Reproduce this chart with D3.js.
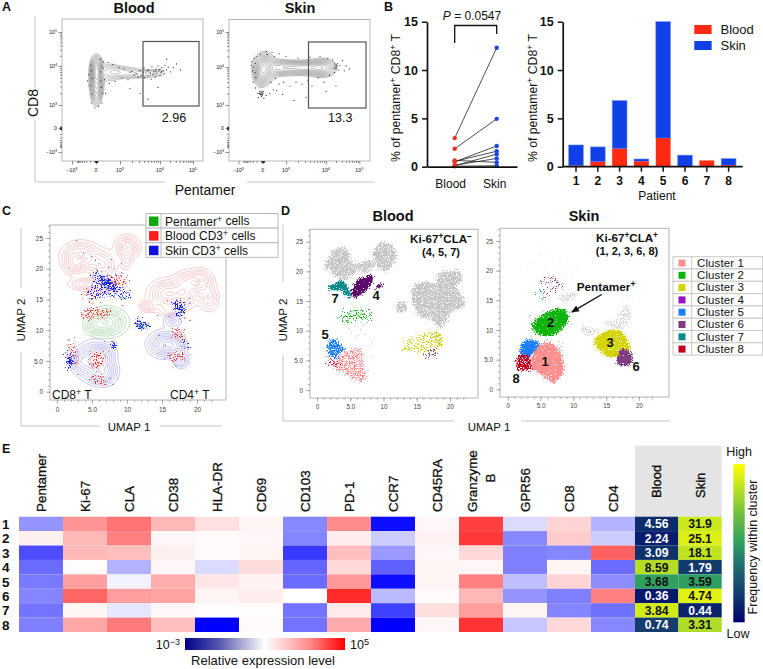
<!DOCTYPE html>
<html><head><meta charset="utf-8">
<script src="https://cdnjs.cloudflare.com/ajax/libs/d3/7.8.5/d3.min.js"></script>
<style>
html,body{margin:0;padding:0;background:#fff}
svg{display:block}
text{font-family:"Liberation Sans",Arial,sans-serif;fill:#111}
</style></head><body><svg id="fig" width="763" height="669"></svg>
<script>
// ---- Panel B values ----
const patients = [1,2,3,4,5,6,7,8];
const bloodPct = [0.1,0.5,1.85,0.55,2.96,0.05,0.65,0.15];
const skinPct  = [2.15,1.55,5.0,0.25,12.05,1.15,0.0,0.7];
const pairedBlood = [2.96,1.85,0.65,0.55,0.5,0.15,0.1,0.05];
const pairedSkin  = [12.3,4.95,0.45,1.6,2.15,0.85,1.3,0.1];
const pctTicks = [0,5,10,15];

// ---- Panel E values ----
const markers = ["Pentamer","Ki-67","CLA","CD38","HLA-DR","CD69","CD103","PD-1","CCR7","CD45RA","Granzyme","GPR56","CD8","CD4"];
const clusterIds = [1,2,3,4,5,6,7,8];
const expression = [
 [-.42,.42,.55,.28,.12,.04,-.47,.45,-.95,.03,.75,-.14,.17,-.3],
 [.06,.28,.5,.03,.02,.03,-.48,.07,-.2,.05,.78,-.47,.2,-.2],
 [-.7,.28,.25,.06,.02,.04,-.78,.25,-.4,.03,.15,-.5,-.48,.62],
 [-.58,.01,-.3,.03,-.14,.14,-.6,.15,-.62,.04,.03,-.5,.04,-.58],
 [-.52,.38,-.05,.32,.1,.05,-.58,.4,-.95,.04,.5,-.25,.17,-.45],
 [-.48,.6,.38,.36,.04,.07,0,.83,-.27,.02,.28,-.42,-.5,.5],
 [-.55,.04,-.1,.03,.01,.01,-.55,.08,-.75,.13,.38,.04,-.48,-.56],
 [-.5,.35,.52,.25,-1,.02,-.55,.33,-1,.03,.8,-.22,.15,-.47]
];
const bloodFreq = [4.56,2.24,3.09,8.59,3.68,0.36,3.84,0.74];
const skinFreq  = [31.9,25.1,18.1,1.79,3.59,4.74,0.44,3.31];

// ---- Panel D legend ----
const clusterNames = ["Cluster 1","Cluster 2","Cluster 3","Cluster 4","Cluster 5","Cluster 6","Cluster 7","Cluster 8"];
const clusterColors = ["#ff8f8f","#0cb40c","#d4d400","#9a10c8","#1a80ff","#7f3a80","#0a8a8a","#c00020"];

// ---- Panel A density peaks: [x, y, spreadX, spreadY, height], axes in decade units ----
const bloodFlowPeaks = [[0,1.95,.13,.19,.7],[0,1.6,.14,.27,.85],[0,1.25,.09,.12,.22],[.55,1.85,.28,.14,.22],[1.0,1.86,.3,.09,.2],[1.5,1.8,.3,.07,.16],[1.9,1.85,.2,.06,.11]];
const skinFlowPeaks  = [[.05,2,.23,.2,1],[-.1,1.78,.14,.15,.4],[.7,2,.3,.12,.42],[1.2,2,.3,.1,.36],[1.55,2,.25,.1,.34],[1.9,2,.2,.13,.55],[-.08,1.32,.05,.04,.18]];
const flowLevels = [.07,.11,.16,.22,.29,.37,.46,.56,.67,.79,.92,1.06,1.22];

const bloodFlowDots = [[1.3,1.86],[1.4,1.8],[1.45,1.72],[1.5,1.88],[1.55,1.78],[1.6,1.95],[1.62,1.7],[1.65,1.82],[1.7,1.75],[1.72,1.9],[1.75,1.84],[1.78,1.66],[1.8,1.98],[1.82,1.78],[1.85,1.87],[1.88,1.72],[1.9,1.92],[1.92,1.8],[1.95,2.0],[1.97,1.85],[2.0,1.76],[2.0,1.92],[2.03,1.83],[2.06,1.96],[2.1,1.88],[2.12,1.8],[2.15,2.02],[2.2,1.9],[2.25,1.97],[2.32,1.85],[2.4,1.96],[2.5,2.06],[2.62,1.9],[1.2,1.65],[1.1,1.92],[1.05,1.68],[.95,1.95],[.8,1.6],[.7,2.05],[.55,1.55],[.5,2.1],[.4,1.3],[.35,1.65],[.3,2.12],[.25,1.05],[.22,1.45],[.2,1.85],[.18,2.2],[-.2,1.05],[-.25,1.5],[-.3,1.78],[-.22,2.02],[-.35,1.62],[.1,.95],[-.05,.88],[1.5,1.3],[1.7,1.15],[1.25,1.42],[2.2,2.2],[1.95,1.45],[1.58,1.84],[1.68,1.88],[1.76,1.8],[1.84,1.82],[1.9,1.86],[1.98,1.9],[2.05,1.86],[1.52,1.74],[1.35,1.76],[1.25,1.84],[.3,1.95],[.28,1.3],[.2,1.62],[.24,2.0],[-.18,1.28],[-.16,1.68],[-.2,1.88]];
const skinFlowDots = [[-.45,2.15],[-.42,1.9],[-.4,1.6],[-.35,2.25],[-.3,1.45],[-.28,1.72],[-.25,2.3],[-.2,1.3],[-.18,1.2],[-.1,1.28],[-.12,1.36],[-.05,1.22],[-.03,1.34],[0,1.3],[.05,1.18],[.15,1.25],[.3,1.3],[.45,1.4],[.6,1.38],[.7,1.55],[.9,1.6],[1.1,1.5],[1.25,1.6],[1.4,1.55],[1.55,1.65],[1.65,1.5],[1.8,1.72],[1.95,1.6],[2.1,1.78],[2.25,1.85],[2.3,1.95],[2.33,2.02],[2.27,2.06],[2.35,2.1],[2.3,1.98],[2.38,1.92],[2.25,2.12],[2.42,2.05],[2.2,2.2],[2.05,2.25],[1.85,2.3],[1.6,2.28],[1.3,2.25],[1.0,2.3],[.7,2.38],[.4,2.42],[.15,2.44],[2.5,2.18],[2.55,1.9],[2.6,2.03],[2.7,1.95],[2.0,1.35],[1.5,1.2],[2.3,1.5],[.85,1.28],[1.2,1.12],[-.48,2.05],[-.38,2.0],[-.32,1.85],[-.3,2.1],[-.1,2.35],[.2,2.36],[.5,2.3],[.35,1.6],[.55,1.7],[-.06,1.28],[-.02,1.26],[.02,1.36],[-.14,1.3],[2.28,2.0],[2.32,2.06],[2.24,1.96]];

// ---- Panel C density peaks in UMAP units ----
const redPeaks = [[3.3,22,1.45,1.3,1.05],[3.3,22.3,.45,.5,-.55],[6.5,20.6,1.1,1.4,.55],[10,23.6,.95,1.05,.85],[9.8,21.3,.5,.9,.3],[2.2,20.5,.7,.8,.35],[4,17.6,1.4,.6,.5],[6.5,17.3,1.5,.7,.42],[8.5,17.6,.9,.6,.25],
  [20.2,18,1.1,1.1,.9],[20.2,18.2,.3,.3,-.4],[15.7,16,1.5,1.3,.85],[12.9,14,.7,.55,.55],[18.3,15.8,1,1.2,.55],[21.6,15.3,.8,1.2,.55],[16.2,13.2,1.1,.6,.3],[18,18,.9,1,.4],
  [4.8,12.8,1,.45,.2],[2.2,5.6,.55,1.2,.3],[5.6,5,.7,.8,.22],[17.6,9,.6,.7,.2]];
const bluePeaks = [[5.2,5,1.3,1.7,1],[7,3.4,.95,1.2,.65],[3.2,5,.8,1.1,.5],[6.6,6.4,1,.8,.55],[5.9,2.4,.9,.7,.3],[15.3,7.8,1.3,1.15,1],[17.7,5.1,.6,.7,.55],[17,7.5,.8,1,.45],[16.4,11.6,.75,.7,.42],[16.4,11.6,.2,.2,-.25]];
const greenPeaks = [[7.1,11.4,1.5,1.25,1],[5.3,10.7,.8,.8,.35],[12.1,10.8,.45,.3,.4],[9.2,15.3,.22,.2,.25]];
const umapLevels = [.1,.2,.31,.43,.56,.7,.85,1,1.17,1.35];

// Rough outlines of speckled cell populations in panel C
const speckleBlue = [
 [[5,20],[6.5,19],[8,17.5],[9.5,16.8],[10.8,15.8],[10,15],[8.5,15.4],[7,15.5],[5.5,15.2],[4.3,15.8],[5,17.5]],
 [[16.6,14.8],[17.7,15],[18.3,13.5],[18.1,12],[17,12.2]],
 [[17.9,8.4],[18.8,8],[19,6.8],[18.2,7]],
 [[1.3,6.4],[2.4,6],[2.2,4.2],[1.5,3.5],[1.2,4.8]]];
const speckleBlueCore = [
 [[6.2,18.8],[7.6,18.4],[8.6,17],[7.8,16.4],[6.6,17.2]],
 [[11.3,11.8],[12.6,11.3],[13.4,11],[12.8,10.3],[11.6,10.2],[11.2,10.9]],
 [[17,14],[18,14],[18,12.8],[17.2,12.8]],
 [[7.9,8.2],[8.4,8],[8.4,7],[7.9,7]],
 [[1.5,5.6],[2,5.6],[1.9,4.4],[1.5,4.4]]];
const speckleRed = [
 [[3.5,13.4],[5.5,13.5],[7.8,13],[7,12.2],[5,11.9],[3.7,12.2]],
 [[4.8,6.3],[6.6,6],[6.2,4],[5,3.8]],
 [[4.8,2.6],[7,2.2],[7,1.2],[5,1.6]],
 [[1.4,7.5],[2.6,7.2],[2.6,4.5],[1.6,4.6]],
 [[16.4,10.4],[18,10],[18,8.4],[16.6,8.8]],
 [[16,6.2],[18.2,6.2],[18,5.2],[16,5.4]],
 [[7.4,18.6],[10,18.6],[9.6,17.4],[7.6,17]],
 [[4,16.4],[6,16.2],[6,15],[4,15.2]]];
const scatterBlue = [[2.8,24.6],[3.8,22.6],[5,22],[5.5,21.4],[6,20.8],[5.6,20],[7.4,20.2],[7.8,21.5],[4.8,19],[7.2,19],[6.4,18.6],[8.4,19],[9.2,20.8],[15.8,14.8],[18.9,15.2],[19,14.4],[14.4,12.4],[16,12.2],[19,11.6],[14.6,9.2],[15.5,7.6],[17,4.2],[3,2.8],[8,1.2],[7.6,2.2],[15.4,5.4],[1.6,8.4],[11.6,12.2],[9.4,14]];
const scatterRed = [[9.2,19.4],[8.2,20],[6.4,19.6],[6,17.4],[4.2,16.8],[5,14.4],[2.5,8.8],[1.8,8.4],[3.6,5.5],[7.2,4.2],[7.4,6.6],[6.8,8.2],[14.4,6.2],[15.2,7.4],[19,6],[17.8,11.4],[18.4,12],[16.6,3.9],[13,11.2],[9,11.8]];

// ---- Panel D population outlines in UMAP units ----
const bloodGray = [
 [[1.1,21],[2,22.5],[2.7,23.8],[4,24],[4.9,23],[5.2,21.6],[6.5,21.5],[7.8,22],[8.6,21],[7.5,19.8],[6,20],[5,19],[4,18.5],[3,19],[2,20]],
 [[8.4,23],[9,24.4],[10,25],[11.2,24.4],[12,23],[11.6,21.5],[10.5,20],[9.2,20.5],[8.6,21.5]],
 [[14.4,17.2],[15,18],[16.5,18.2],[18,18],[18.2,19.5],[19.5,20],[21.5,19.9],[21.7,18.5],[21,17.3],[21.8,16],[22.3,14.3],[21,13.5],[20,13],[19.5,11.5],[18.8,10.5],[18,11],[17,12],[15.5,12.3],[15,13.5],[14.3,15]],
 [[11.9,14],[12.3,14.8],[13.2,14.8],[13.5,13.8],[13,13.1],[12.2,13.2]]];
const bloodPurple = [[[5.2,16.3],[5.5,17.5],[6,18.5],[7,19],[8.4,19.4],[8.2,18],[7.5,16.9],[6.5,16],[5.5,15.6]],[[8.7,17.1],[9.6,17.9],[10,18],[9.4,17.2]]];
const bloodTeal = [[[1.7,17.5],[2.8,17.9],[3.5,18.6],[4.2,18],[5,16.5],[5,15.5],[4.3,15.8],[3.5,16.8],[2.5,16.8],[1.8,17]]];
const bloodGreen = [[[3.5,12],[3.7,13.2],[5.5,13.5],[8,13.4],[8.4,12.5],[8,11.6],[6.5,12],[5.5,11.7],[4.5,11.3]]];
const bloodBlue = [[[1.5,7.2],[2,8.4],[2.8,8.6],[3.5,7.5],[4.2,6.8],[3.3,6.2],[3,5.3],[2.2,5.5],[1.7,6.2]]];
const bloodPink = [[[3,5.5],[4.5,6.5],[6.5,7],[6.8,5.5],[7,4],[7.4,2.5],[7,1.5],[5.5,1.8],[4,3],[2.5,4]]];
const bloodDarkRed = [[[1.4,5.4],[2.6,5.2],[3.6,3.9],[2.8,3.6],[1.5,4.4]]];
const bloodYellow = [[[13,6.5],[13.5,8.5],[16,9.5],[18,9.7],[18.9,8],[18.5,7],[17.5,6.5],[16,5.3],[15.8,6],[14.5,6.5]]];
const bloodYellowCore = [[[17,9.6],[18,9.7],[18.9,8],[18.4,7.4],[17.8,8.8]]];
const bloodPlum = [[[16,5.6],[17,6.8],[18.2,6.6],[17.8,5.4],[16.5,5.2]]];
const skinLightGray = [
 [[14.8,11.2],[16,11.5],[17,12.5],[17.8,14.3],[18.8,13],[18.5,11.5],[17.5,10.5],[16,10.3]],
 [[11.2,10.6],[12.5,10.4],[13.6,9.6],[12.5,9.2],[11.4,9.6]],
 [[7.8,15.5],[9,16.2],[10.5,16],[9.5,14.8],[8.5,14.7]]];
const skinBlue = [[[1.9,6],[2.2,7.8],[3.3,8.4],[4.6,8],[4.9,7.2],[4,6.5],[3.5,5.5],[2.5,5.3]]];
const skinRed = [[[1.3,4],[1.5,5.3],[2.5,6],[3.5,5],[3.8,3.6],[2.8,3.2],[1.6,3.2]]];
const skinPink = [[[3.5,4.5],[4.3,6.8],[5.5,7.8],[6.8,7.7],[7.8,6.5],[8.4,5],[8.6,3.3],[7.8,1.8],[7,1.1],[5.8,1.8],[4.5,3],[3.6,3.8]]];
const skinGreen = [[[3.7,10.7],[4.6,12],[6,13],[7.5,13.6],[8.8,13.2],[9.2,11.8],[8.5,10.3],[7,9.2],[5.5,9],[4.2,9.6]]];
const skinYellow = [[[13.2,8],[14,9.3],[15.8,9.9],[17.3,9.8],[18.2,8.2],[18,6.8],[17,5.7],[15.5,5.5],[14,6.6]],[[17.8,8.6],[18.7,7],[18.2,6.2],[17.8,7]]];
const skinPlum = [[[16.7,5],[17,6.5],[18.3,6.7],[19,5.5],[18.6,4.2],[17.5,4],[16.8,4.2]]];
const skinPurpleSparse = [[[5.3,18.8],[6.2,19.4],[8.2,18],[8.4,17],[7,16.4],[6,15.5],[5.3,16.6]]];
const skinTealSparse = [[[4.4,16.8],[5.4,17.2],[5.4,15],[4.6,15]]];
const bloodGreenDots = [[4.2,11],[4.8,10.4],[5.2,9.6],[5.7,10.8],[6.2,9.2],[6.6,10.2],[7,11],[7.2,9.4],[8.2,8],[7.9,7.4],[5.8,8.8],[8.4,5.6],[6.7,11.4],[4,11.5]];
const skinGrayDots = [[3,20],[3.6,21.2],[4.8,22.6],[5.6,21],[6,20],[6.8,21.5],[7.2,20.4],[7.8,19.6],[8.4,20.6],[9.4,20.4],[10.4,19.8],[10.6,20.8],[6.4,23],[5,24.2],[8,22],[9.8,19],[11.2,17],[17.6,15],[18.4,15.6],[19,14.8]];
const skinGreenDots = [[3.4,12.4],[3.2,10],[3.6,9],[6,8.4],[5.8,9],[7.8,8],[8.1,7.2],[8.2,6.6],[7.9,6.9],[8.4,7.8],[9.4,13],[9.8,11],[12.6,9.8],[11.8,10.2],[5.4,13.2]];

// ---- shared helpers ----
const svg = d3.select("#fig");
const defs = svg.append("defs");

// Grain filter: roughens the edge of a filled shape and stipples its interior
function grainFilter(id, seed, cut, rough){
  const f = defs.append("filter").attr("id",id).attr("filterUnits","userSpaceOnUse")
    .attr("x",0).attr("y",0).attr("width",763).attr("height",669).attr("color-interpolation-filters","sRGB");
  f.append("feTurbulence").attr("type","fractalNoise").attr("baseFrequency",0.85).attr("numOctaves",2).attr("seed",seed).attr("result","n");
  f.append("feDisplacementMap").attr("in","SourceGraphic").attr("in2","n").attr("scale",rough).attr("xChannelSelector","R").attr("yChannelSelector","G").attr("result","r");
  f.append("feColorMatrix").attr("in","n").attr("type","matrix")
    .attr("values",`0 0 0 0 0 0 0 0 0 0 0 0 0 0 0 0 0 0 12 ${-12*cut}`).attr("result","m");
  f.append("feComposite").attr("in","r").attr("in2","m").attr("operator","in");
}
grainFilter("gSolid",5,.24,8);
grainFilter("gDense",3,.34,9);
grainFilter("gMid",7,.46,10);
grainFilter("gThin",11,.54,12);
grainFilter("gFaint",17,.6,12);

function rich(sel, parts){
  parts.forEach((p,i)=>{
    const t = sel.append("tspan").text(p[0]);
    if(p[1]==="sup"){ t.attr("dy","-0.42em").attr("font-size","72%"); }
    else if(i>0 && parts[i-1][1]==="sup"){ t.attr("dy","0.3em"); }
  });
  return sel;
}
function label(x,y,txt,o={}){
  const t = svg.append("text").attr("x",x).attr("y",y).attr("font-size",o.size||12)
    .attr("font-weight",o.bold?"bold":"normal").attr("text-anchor",o.anchor||"middle");
  if(o.fill) t.style("fill",o.fill);
  if(o.stroke) t.attr("stroke","#111").attr("stroke-width",o.stroke);
  if(o.rot) t.attr("transform",`rotate(${o.rot} ${x} ${y})`);
  if(Array.isArray(txt)) rich(t,txt); else t.text(txt);
  return t;
}
function grayLine(x1,y1,x2,y2){
  svg.append("line").attr("x1",x1).attr("y1",y1).attr("x2",x2).attr("y2",y2).attr("stroke","#c4c4c4").attr("stroke-width",1);
}
function densityContours(g,peaks,xS,yS,levels,colour,width){
  const [x0,x1]=d3.extent(xS.range()), [y0,y1]=d3.extent(yS.range());
  const step=1, n=Math.ceil((x1-x0)/step)+1, m=Math.ceil((y1-y0)/step)+1;
  const vals=new Float64Array(n*m);
  for(let j=0;j<m;j++) for(let i=0;i<n;i++){
    const u=xS.invert(x0+i*step), v=yS.invert(y0+j*step);
    let s=0;
    for(const [px,py,sx,sy,w] of peaks){
      const a=(u-px)/sx,b=(v-py)/sy;
      s+=w*Math.exp(-.5*(a*a+b*b));
    }
    vals[i+j*n]=s;
  }
  const shapes=d3.contours().size([n,m]).thresholds(levels)(vals);
  const path=d3.geoPath(d3.geoTransform({point(x,y){this.stream.point(x0+x*step,y0+y*step);}}));
  g.selectAll(null).data(shapes).join("path").attr("d",path).attr("fill","none").attr("stroke",colour).attr("stroke-width",width);
}
function blobs(g,shapes,xS,yS,fill,filter){
  const line=d3.line().x(d=>xS(d[0])).y(d=>yS(d[1])).curve(d3.curveCatmullRomClosed.alpha(.5));
  g.append("g").attr("filter",filter?`url(#${filter})`:null).selectAll("path").data(shapes).join("path").attr("d",line).attr("fill",fill);
}
function dots(g,pts,xS,yS,fill,r){
  g.selectAll(null).data(pts).join("circle").attr("cx",d=>xS(d[0])).attr("cy",d=>yS(d[1])).attr("r",r).attr("fill",fill);
}
function umapFrame(box,xS,yS,tickSize){
  svg.append("rect").attr("x",box[0]).attr("y",box[1]).attr("width",box[2]-box[0]).attr("height",box[3]-box[1]).attr("fill","none").attr("stroke","#b4b4b4").attr("stroke-width",1);
  const xa=svg.append("g").attr("transform",`translate(0,${box[3]})`);
  const ya=svg.append("g").attr("transform",`translate(${box[0]},0)`);
  const xMinor=d3.range(0,23,1), yMinor=d3.range(0,28,1);
  xa.call(d3.axisBottom(xS).tickValues(xMinor).tickSize(2).tickFormat(""));
  ya.call(d3.axisLeft(yS).tickValues(yMinor).tickSize(2).tickFormat(""));
  xa.append("g").call(d3.axisBottom(xS).tickValues([0,5,10,15,20]).tickSize(4).tickFormat(d=>d===5?"5.0":d));
  ya.append("g").call(d3.axisLeft(yS).tickValues([0,5,10,15,20,25]).tickSize(4).tickFormat(d=>d===5?"5.0":d));
  [xa,ya].forEach(a=>{a.selectAll(".domain").remove();a.selectAll("line").attr("stroke","#888").attr("stroke-width",.6);a.selectAll("text").attr("font-size",tickSize).attr("font-family","Liberation Sans").style("fill","#444");});
}

// ---- Panel letters ----
[["A",2,11],["B",384,11],["C",2,215],["D",281,215],["E",2,453]].forEach(d=>label(d[1],d[2],d[0],{bold:true,size:12.5,anchor:"start"}));

// ---- Panel A: flow cytometry contour plots ----
function flowPanel(box,xTicks,yTicks,peaks,pts,gate,gateText,title,titleX){
  const xS=d3.scaleLinear().domain([-1,0,1,2,3]).range(xTicks);
  const yS=d3.scaleLinear().domain([-1,0,1,2,3]).range(yTicks);
  svg.append("rect").attr("x",box[0]).attr("y",box[1]).attr("width",box[2]-box[0]).attr("height",box[3]-box[1]).attr("fill","none").attr("stroke","#b8b8b8");
  const g=svg.append("g");
  densityContours(g,peaks,xS,yS,flowLevels,"#7a7a7a",.5);
  dots(g,pts,xS,yS,"#222",.6);
  g.append("rect").attr("x",gate[0]).attr("y",gate[1]).attr("width",gate[2]-gate[0]).attr("height",gate[3]-gate[1]).attr("fill","none").attr("stroke","#555").attr("stroke-width",1.2);
  label((gate[0]+gate[2])/2+3,122,gateText,{size:12.5});
  const sup=["\u221210","","10","10","10"];
  const supE=["3","","3","4","5"];
  const minor=[];
  [-1,1,2].forEach(a=>{for(let k=2;k<10;k++){minor.push(a<0? -Math.log10(k)/1.2 : a+Math.log10(k));}});
  for(let k=-5;k<=5;k++) minor.push(k*.012);
  const ax=svg.append("g").attr("transform",`translate(0,${box[3]})`).call(d3.axisBottom(xS).tickValues(minor).tickSize(2).tickFormat(""));
  const ay=svg.append("g").attr("transform",`translate(${box[0]},0)`).call(d3.axisLeft(yS).tickValues(minor).tickSize(2).tickFormat(""));
  ax.append("g").call(d3.axisBottom(xS).tickValues([-1,0,1,2,3]).tickSize(3.5).tickFormat(""));
  ay.append("g").call(d3.axisLeft(yS).tickValues([-1,0,1,2,3]).tickSize(3.5).tickFormat(""));
  [ax,ay].forEach(a=>{a.selectAll(".domain").remove();a.selectAll("line").attr("stroke","#222").attr("stroke-width",.5);});
  [-1,0,1,2,3].forEach((d,i)=>{
    const parts=d===0?[["0"]]:[[sup[i]],[supE[i],"sup"]];
    label(xS(d),box[3]+11,parts,{size:5.2});
    label(box[0]-5,yS(d)+1.8,parts,{size:5.2,anchor:"end"});
  });
  label(titleX,13,title,{bold:true,size:14.5});
}
flowPanel([62,19,203,161],[72,96,120,160,193],[152,128,105,66,32],bloodFlowPeaks,bloodFlowDots,[143,41.5,199,106],"2.96","Blood",134);
flowPanel([229,19.5,370,161],[238.5,262.7,286,326,359.3],[152,128,105,67,32],skinFlowPeaks,skinFlowDots,[308.5,42,366,108],"13.3","Skin",300);
grayLine(35,16,35,88);grayLine(35,120,35,182);grayLine(36,182,165,182);grayLine(247,182,375,182);
label(38,103,"CD8",{size:14,rot:-90});
label(205,195,"Pentamer",{size:14});

// ---- Panel B: paired points ----
const yPct=d3.scaleLinear().domain([0,15]).range([166.7,21.7]);
const gPair=svg.append("g");
const xPair=d3.scalePoint().domain(["Blood","Skin"]).range([454.7,496.7]);
gPair.selectAll("line.pair").data(pairedBlood).join("line").attr("class","pair")
  .attr("x1",xPair("Blood")).attr("x2",xPair("Skin")).attr("y1",d=>yPct(d)).attr("y2",(d,i)=>yPct(pairedSkin[i])).attr("stroke","#222").attr("stroke-width",.8);
gPair.selectAll("circle.b").data(pairedBlood).join("circle").attr("cx",xPair("Blood")).attr("cy",d=>yPct(d)).attr("r",2.2).attr("fill","#f2301a");
gPair.selectAll("circle.s").data(pairedSkin).join("circle").attr("cx",xPair("Skin")).attr("cy",d=>yPct(d)).attr("r",2.2).attr("fill","#1a46e6");
function boldAxes(ax){
  ax.selectAll(".domain").attr("stroke","#111").attr("stroke-width",1.7);
  ax.selectAll("line").attr("stroke","#111").attr("stroke-width",1.5);
}
const pa=svg.append("g").attr("transform","translate(427,0)").call(d3.axisLeft(yPct).tickValues(pctTicks).tickSize(5).tickSizeOuter(0));
boldAxes(pa);pa.selectAll("text").attr("font-size",12.5).attr("font-weight","bold").attr("font-family","Liberation Sans").style("fill","#111").attr("dx",-1);
const px=svg.append("g").attr("transform","translate(0,166.7)").call(d3.axisBottom(d3.scaleLinear().domain([427,517]).range([427,517])).tickValues([]).tickSize(0).tickSizeOuter(0));
boldAxes(px);
[["Blood",xPair("Blood")-4],["Skin",xPair("Skin")-2]].forEach(d=>label(d[1],188,d[0],{size:12}));
label(472,20,[["P","i"],[" = 0.0547"]],{size:12}).select("tspan").attr("font-style","italic");
svg.append("path").attr("d",`M${xPair("Blood")},43V25.5H${xPair("Skin")}V34`).attr("fill","none").attr("stroke","#111").attr("stroke-width",1.3);
const pctLabel=[["% of pentamer"],["+","sup"],[" CD8"],["+","sup"],[" T"]];
label(400,98,pctLabel,{size:12.2,rot:-90});
label(537,98,pctLabel,{size:12.2,rot:-90});

// ---- Panel B: stacked bars ----
const xBar=d3.scaleBand().domain(patients).range([565.1,739.5]).paddingInner(.32).paddingOuter(.16);
const gBar=svg.append("g");
gBar.selectAll("rect.s").data(patients).join("rect").attr("class","s").attr("x",d=>xBar(d)).attr("width",xBar.bandwidth())
  .attr("y",(d,i)=>yPct(bloodPct[i]+skinPct[i])).attr("height",(d,i)=>yPct(bloodPct[i])-yPct(bloodPct[i]+skinPct[i])).attr("fill","#1040e6").attr("stroke","#7f9cf5").attr("stroke-width",.6);
gBar.selectAll("rect.b").data(patients).join("rect").attr("class","b").attr("x",d=>xBar(d)).attr("width",xBar.bandwidth())
  .attr("y",(d,i)=>yPct(bloodPct[i])).attr("height",(d,i)=>yPct(0)-yPct(bloodPct[i])).attr("fill","#ff2a12");
const ba=svg.append("g").attr("transform","translate(562.7,0)").call(d3.axisLeft(yPct).tickValues(pctTicks).tickSize(5).tickSizeOuter(0));
boldAxes(ba);ba.selectAll("text").attr("font-size",12.5).attr("font-weight","bold").attr("font-family","Liberation Sans").style("fill","#111").attr("dx",-1);
const bb=svg.append("g").attr("transform","translate(0,166.7)").call(d3.axisBottom(xBar).tickSize(5).tickSizeOuter(0));
bb.select(".domain").attr("d","M562.7,0H742.7");
boldAxes(bb);bb.selectAll("text").attr("font-size",12).attr("font-weight","bold").attr("font-family","Liberation Sans").style("fill","#111").attr("dy",".9em");
label(657,200,"Patient",{size:12});
[["Blood","#ff2a12",25],["Skin","#1040e6",41]].forEach(d=>{
  svg.append("rect").attr("x",694.3).attr("y",d[2]).attr("width",17.3).attr("height",9).attr("fill",d[1]);
  label(720.5,d[2]+9,d[0],{size:13,anchor:"start"});
});

// ---- Panel C ----
const xC=d3.scaleLinear().domain([0,20]).range([57,197]);
const yC=d3.scaleLinear().domain([0,25]).range([391.7,238]);
const xCfull=d3.scaleLinear().domain([xC.invert(50),xC.invert(226)]).range([50,226]);
const yCfull=d3.scaleLinear().domain([yC.invert(400),yC.invert(225)]).range([400,225]);
const gC=svg.append("g");
densityContours(gC,redPeaks,xCfull,yCfull,umapLevels,"#f09c9c",.55);
densityContours(gC,greenPeaks,xCfull,yCfull,umapLevels,"#7cc47c",.55);
densityContours(gC,bluePeaks,xCfull,yCfull,umapLevels,"#9090e6",.55);
blobs(gC,speckleRed,xC,yC,"#f03030","gThin");
blobs(gC,speckleBlue,xC,yC,"#1420e0","gThin");
blobs(gC,speckleBlueCore,xC,yC,"#1420e0","gMid");
dots(gC,scatterRed,xC,yC,"#f03030",.5);
dots(gC,scatterBlue,xC,yC,"#1420e0",.55);
umapFrame([50,225,226,400],xC,yC,6.5);
label(52,399,[["CD8"],["+","sup"],[" T"]],{size:12,anchor:"start"});
label(170,399,[["CD4"],["+","sup"],[" T"]],{size:12,anchor:"start"});
grayLine(21,228,21,288);grayLine(21,352,21,426);grayLine(21,426,100,426);grayLine(160,426,222,426);
label(25,320,"UMAP 2",{size:11.6,rot:-90});
label(129,431,"UMAP 1",{size:11.5});

const cLegend=[["Pentamer cells",[["Pentamer"],["+","sup"],[" cells"]],"#10a810"],["Blood",[["Blood CD3"],["+","sup"],[" cells"]],"#ff1c1c"],["Skin",[["Skin CD3"],["+","sup"],[" cells"]],"#1010dd"]];
cLegend.forEach((d,i)=>{
  const y=213.5+i*14.6;
  svg.append("rect").attr("x",146).attr("y",y).attr("width",132).attr("height",14.6).attr("fill","#fff").attr("stroke","#b8b8b8");
  svg.append("line").attr("x1",161).attr("x2",161).attr("y1",y).attr("y2",y+14.6).attr("stroke","#b8b8b8");
  svg.append("rect").attr("x",149).attr("y",y+3).attr("width",9.5).attr("height",9.5).attr("fill",d[2]);
  label(165,y+12,d[1],{size:12,anchor:"start"});
});

// ---- Panel D ----
const xDb=d3.scaleLinear().domain([0,20]).range([317,450]);
const yDb=d3.scaleLinear().domain([0,25]).range([390,241.7]);
const xDs=d3.scaleLinear().domain([0,20]).range([507.7,639]);
const yDs=d3.scaleLinear().domain([0,25]).range([389.3,241]);
const gDb=svg.append("g"), gDs=svg.append("g");
blobs(gDb,bloodGray,xDb,yDb,"#c6c6c6","gDense");
blobs(gDb,bloodTeal,xDb,yDb,"#0a8a8a","gSolid");
blobs(gDb,bloodPurple,xDb,yDb,"#5a0a68","gSolid");
blobs(gDb,bloodGreen,xDb,yDb,"#1cb41c","gThin");
dots(gDb,bloodGreenDots,xDb,yDb,"#1cb41c",.45);
blobs(gDb,bloodPink,xDb,yDb,"#ff8f8f","gMid");
blobs(gDb,bloodDarkRed,xDb,yDb,"#c02040","gThin");
blobs(gDb,bloodBlue,xDb,yDb,"#1a80ff","gDense");
blobs(gDb,bloodYellow,xDb,yDb,"#d4d400","gThin");
blobs(gDb,bloodYellowCore,xDb,yDb,"#c8c800","gMid");
blobs(gDb,bloodPlum,xDb,yDb,"#7f3a80","gThin");
umapFrame([310,229.3,478,398],xDb,yDb,6.3);

blobs(gDs,skinLightGray,xDs,yDs,"#d6d6d6","gMid");
dots(gDs,skinGrayDots,xDs,yDs,"#dcdcdc",.5);
blobs(gDs,skinPurpleSparse,xDs,yDs,"#7a2a80","gFaint");
blobs(gDs,skinTealSparse,xDs,yDs,"#0a8a8a","gFaint");
blobs(gDs,skinBlue,xDs,yDs,"#1a80ff","gSolid");
blobs(gDs,skinRed,xDs,yDs,"#c00020","gDense");
blobs(gDs,skinPink,xDs,yDs,"#ff8f8f","gSolid");
blobs(gDs,skinGreen,xDs,yDs,"#0cb40c","gSolid");
dots(gDs,skinGreenDots,xDs,yDs,"#0cb40c",.5);
blobs(gDs,skinYellow,xDs,yDs,"#d4d400","gSolid");
blobs(gDs,skinPlum,xDs,yDs,"#7f3a80","gSolid");
umapFrame([500,228.3,669,397],xDs,yDs,6.3);

label(393,221,"Blood",{bold:true,size:14.5});
label(584,221,"Skin",{bold:true,size:14.5});
label(441,243,[["Ki-67"],["+","sup"],["CLA"],["\u2212","sup"]],{bold:true,size:11.6});
label(441,255.5,"(4, 5, 7)",{bold:true,size:11});
label(627,242,[["Ki-67"],["+","sup"],["CLA"],["+","sup"]],{bold:true,size:11.6});
label(627,254.5,"(1, 2, 3, 6, 8)",{bold:true,size:11});
[["4",376,300],["7",335,303],["5",325,339],["2",550.5,327],["1",545,366],["3",610,347],["6",636,371],["8",516,383]].forEach(d=>label(d[1],d[2],d[0],{bold:true,size:13}));
label(606,291,[["Pentamer"],["+","sup"]],{bold:true,size:11.8});
defs.append("marker").attr("id","arrowHead").attr("markerWidth",8).attr("markerHeight",8).attr("refX",6).attr("refY",3).attr("orient","auto").attr("markerUnits","userSpaceOnUse")
  .attr("viewBox","0 0 7 6").append("path").attr("d","M0,0L7,3L0,6Z").attr("fill","#111");
svg.append("line").attr("x1",601.7).attr("y1",294.5).attr("x2",572).attr("y2",311.8).attr("stroke","#111").attr("stroke-width",1.4).attr("marker-end","url(#arrowHead)");
grayLine(283,225,283,282);grayLine(283,355,283,421);grayLine(283,421,454,421);grayLine(521.7,421,670,421);
label(287,320,"UMAP 2",{size:11.6,rot:-90});
label(489,431,"UMAP 1",{size:11.5});

clusterNames.forEach((n,i)=>{
  const y=256.7+i*12.3;
  svg.append("rect").attr("x",673).attr("y",y).attr("width",89.7).attr("height",12.3).attr("fill","#fff").attr("stroke","#c8c8c8");
  svg.append("line").attr("x1",691.7).attr("x2",691.7).attr("y1",y).attr("y2",y+12.3).attr("stroke","#c8c8c8");
  svg.append("rect").attr("x",678.5).attr("y",y+2.8).attr("width",7).attr("height",7).attr("fill",clusterColors[i]);
  label(697,y+10,n,{size:11.5,anchor:"start"}).attr("textLength",47).attr("lengthAdjust","spacing");
});

// ---- Panel E: expression heatmap ----
const xHeat=d3.scaleBand().domain(markers).range([19,635]);
const yHeat=d3.scaleBand().domain(clusterIds).range([516.7,632]);
const heatColor=d3.scaleLinear().domain([-1,0,1]).range(["#0000ff","#ffffff","#ff0000"]);
const gHeat=svg.append("g");
expression.forEach((row,r)=>{
  gHeat.selectAll(null).data(row).join("rect").attr("x",(d,i)=>xHeat(markers[i])).attr("y",yHeat(clusterIds[r]))
    .attr("width",xHeat.bandwidth()).attr("height",yHeat.bandwidth()).attr("fill",d=>heatColor(d));
});
markers.forEach(m=>{
  const x=xHeat(m)+xHeat.bandwidth()/2+4.5;
  label(x-(m==="Granzyme"?8.5:0),512,m,{size:13.4,anchor:"start",rot:-90,stroke:.3});
});
label(xHeat("Granzyme")+xHeat.bandwidth()/2+13.5,478,"B",{size:13.4,rot:-90,stroke:.3});
clusterIds.forEach(c=>label(2,yHeat(c)+yHeat.bandwidth()/2+5,c,{bold:true,size:13.5,anchor:"start"}));

// Expression colour key
const keyStops=[[0,"#00008b"],[.22,"#5a5ab0"],[.5,"#ffffff"],[.78,"#ff8a8a"],[1,"#ff0000"]];
const keyGrad=defs.append("linearGradient").attr("id","keyGrad");
keyStops.forEach(s=>keyGrad.append("stop").attr("offset",s[0]).attr("stop-color",s[1]));
svg.append("rect").attr("x",185).attr("y",638).attr("width",160).attr("height",12).attr("fill","url(#keyGrad)");
label(180,649,[["10"],["\u22123","sup"]],{size:12.5,anchor:"end"});
label(350,649,[["10"],["5","sup"]],{size:12.5,anchor:"start"});
label(263,665,"Relative expression level",{size:13});

// ---- Panel E: frequency columns, coloured by each cluster's share ----
const freqColumns=["Blood","Skin"];
const xFreq=d3.scaleBand().domain(freqColumns).range([635,721.7]);
svg.append("rect").attr("x",635).attr("y",445.7).attr("width",86.7).attr("height",71).attr("fill","#e4e4e4");
const freqColor=d3.scaleLinear().domain([0,.12,.2,.35,.5,.7,.85,1]).range(["#00006e","#0c2a6c","#16426e","#1f6a72","#2fa060","#74c43c","#bfe322","#ffff00"]);
[bloodFreq,skinFreq].forEach((vals,c)=>{
  const other=c===0?skinFreq:bloodFreq;
  const col=freqColumns[c];
  vals.forEach((v,i)=>{
    const share=v/(v+other[i]);
    svg.append("rect").attr("x",xFreq(col)).attr("y",yHeat(clusterIds[i])).attr("width",xFreq.bandwidth()).attr("height",yHeat.bandwidth()).attr("fill",freqColor(share));
    label(xFreq(col)+xFreq.bandwidth()/2,yHeat(clusterIds[i])+yHeat.bandwidth()/2+4.4,v>=10?v.toFixed(1):v.toFixed(2),{bold:true,size:12.2,fill:share<.3?"#fff":"#111"});
  });
  label(xFreq(col)+xFreq.bandwidth()/2+4.5,498,col,{size:13,anchor:"start",rot:-90,stroke:.35});
});
const freqGrad=defs.append("linearGradient").attr("id","freqGrad").attr("x1",0).attr("x2",0).attr("y1",1).attr("y2",0);
d3.range(0,1.01,.1).forEach(t=>freqGrad.append("stop").attr("offset",t).attr("stop-color",freqColor(t)));
svg.append("rect").attr("x",733.3).attr("y",464).attr("width",11.4).attr("height",158.3).attr("fill","url(#freqGrad)");
label(739,456,"High",{size:12.5});
label(738,638,"Low",{size:12.5});
label(757,547,"Frequency within cluster",{size:12.5,rot:-90});
</script></body></html>
